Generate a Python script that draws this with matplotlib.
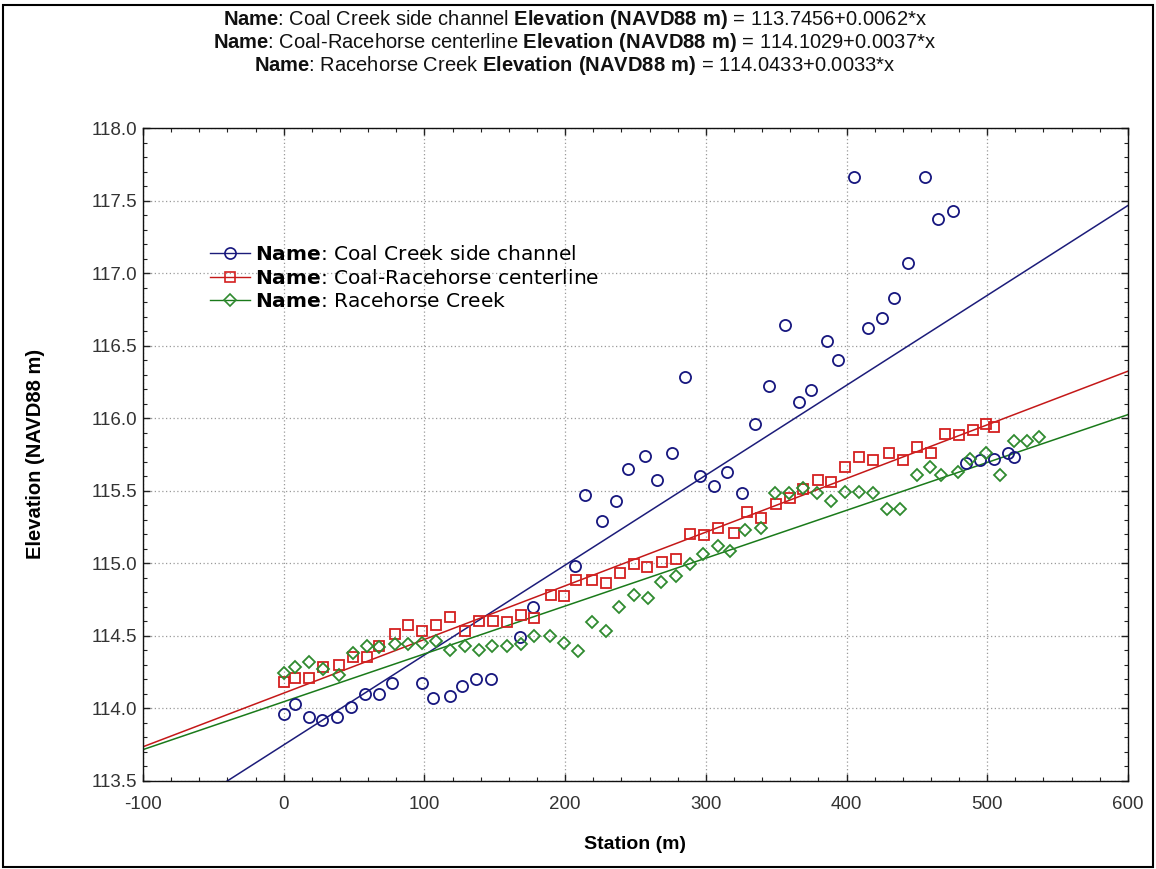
import numpy as np
import matplotlib
matplotlib.use("Agg")
import matplotlib.pyplot as plt
from matplotlib.patches import Rectangle
from matplotlib.ticker import MultipleLocator, FormatStrFormatter
from matplotlib.font_manager import FontProperties

plt.rcParams['font.family'] = ['Liberation Sans', 'DejaVu Sans']
plt.rcParams['mathtext.fontset'] = 'custom'
plt.rcParams['mathtext.rm'] = 'Liberation Sans'
plt.rcParams['mathtext.bf'] = 'Liberation Sans:bold'
plt.rcParams['axes.unicode_minus'] = False

# Coal Creek side channel
coal_st = [0, 8, 18, 27, 38, 48, 58, 68, 77, 98, 106, 118, 127, 137, 147, 168, 177, 207, 214, 226,
           236, 245, 257, 265, 276, 285, 296, 306, 315, 326, 335, 345, 356, 366, 375, 386, 394, 405, 415, 425,
           434, 444, 456, 465, 476, 485, 495, 505, 515, 519]
coal_el = [113.96, 114.03, 113.94, 113.92, 113.94, 114.01, 114.10, 114.10, 114.17, 114.17,
           114.07, 114.08, 114.15, 114.20, 114.20, 114.49, 114.70, 114.98, 115.47, 115.29,
           115.43, 115.65, 115.74, 115.57, 115.76, 116.28, 115.60, 115.53, 115.63, 115.48,
           115.96, 116.22, 116.64, 116.11, 116.19, 116.53, 116.40, 117.66, 116.62, 116.69,
           116.83, 117.07, 117.66, 117.37, 117.43, 115.69, 115.71, 115.72, 115.76, 115.73]

# Coal-Racehorse centerline
cent_st = [0, 8, 18, 28, 39, 49, 59, 68, 79, 88, 98, 108, 118, 129, 139, 149, 159, 169, 178, 190,
           199, 208, 219, 229, 239, 249, 258, 269, 279, 289, 299, 309, 320, 329, 339, 350, 360, 369, 380, 389,
           399, 409, 419, 430, 440, 450, 460, 470, 480, 490, 499, 505]
cent_el = [114.18, 114.21, 114.21, 114.28, 114.30, 114.35, 114.35, 114.43, 114.51, 114.57,
           114.53, 114.57, 114.63, 114.53, 114.60, 114.60, 114.59, 114.64, 114.62, 114.78,
           114.77, 114.88, 114.88, 114.86, 114.93, 114.99, 114.97, 115.01, 115.03, 115.20,
           115.19, 115.24, 115.21, 115.35, 115.31, 115.41, 115.45, 115.51, 115.57, 115.56,
           115.66, 115.73, 115.71, 115.76, 115.71, 115.80, 115.76, 115.89, 115.88, 115.92,
           115.96, 115.94]

# Racehorse Creek
race_st = [0, 8, 18, 28, 39, 49, 59, 68, 79, 88, 98, 108, 118, 129, 139, 148, 159, 169, 178, 189,
           199, 209, 219, 229, 238, 249, 259, 268, 279, 289, 298, 309, 317, 328, 339, 349, 359, 369, 379, 389,
           399, 409, 419, 429, 438, 450, 459, 467, 479, 488, 499, 509, 519, 528, 537]
race_el = [114.24, 114.28, 114.32, 114.27, 114.23, 114.38, 114.43, 114.42, 114.44, 114.44,
           114.45, 114.46, 114.40, 114.43, 114.40, 114.43, 114.43, 114.44, 114.50, 114.50,
           114.45, 114.39, 114.59, 114.53, 114.70, 114.78, 114.76, 114.87, 114.91, 114.99,
           115.06, 115.12, 115.08, 115.23, 115.24, 115.48, 115.48, 115.52, 115.48, 115.43,
           115.49, 115.49, 115.48, 115.37, 115.37, 115.61, 115.66, 115.61, 115.63, 115.72,
           115.76, 115.61, 115.84, 115.84, 115.87]

names = ["Coal Creek side channel", "Coal-Racehorse centerline", "Racehorse Creek"]
intercepts = [113.7456, 114.1029, 114.0433]
slopes = [0.0062, 0.0037, 0.0033]

line_colors = ["#1c1c7a", "#c41818", "#1a7a1a"]
marker_colors = ["#16167e", "#d42020", "#2f8a2f"]
markers = ["o", "s", "D"]
msizes = [8, 7.8, 6]

fig = plt.figure(figsize=(11.56, 8.69), dpi=100)
ax = fig.add_axes([0.1237, 0.1018, 0.852, 0.7509])

xfit = np.linspace(-100, 600, 200)
series = [(coal_st, coal_el), (cent_st, cent_el), (race_st, race_el)]
handles = []
for i, (st, el) in enumerate(series):
    ax.plot(st, el, linestyle="none", marker=markers[i], ms=msizes[i],
            mfc="none", mec=marker_colors[i], mew=1.3, zorder=3)
    ax.plot(xfit, intercepts[i] + slopes[i] * xfit, color=line_colors[i], lw=1.1, zorder=2)
    h, = ax.plot([], [], color=line_colors[i], lw=1.0, marker=markers[i], ms=msizes[i],
                 mfc="none", mec=marker_colors[i], mew=1.2,
                 label=r"$\mathbf{Name}$: " + names[i])
    handles.append(h)

ax.set_xlim(-100, 600)
ax.set_ylim(113.5, 118.0)
ax.xaxis.set_major_locator(MultipleLocator(100))
ax.xaxis.set_minor_locator(MultipleLocator(20))
ax.yaxis.set_major_locator(MultipleLocator(0.5))
ax.yaxis.set_minor_locator(MultipleLocator(0.1))
ax.yaxis.set_major_formatter(FormatStrFormatter("%.1f"))
ax.tick_params(which="both", direction="in", top=True, right=True, labelsize=13.5,
               colors="#222222", labelcolor="#333333")
ax.tick_params(which="major", length=5, width=1)
ax.tick_params(which="minor", length=3, width=0.8)
ax.tick_params(axis="x", pad=11)
ax.tick_params(axis="y", pad=4)
ax.grid(True, which="major", color="#9a9a9a", linestyle=(0, (1, 2)), linewidth=0.9)
for s in ax.spines.values():
    s.set_linewidth(1.0)
    s.set_color("#111111")

ax.set_xlabel("Station (m)", fontsize=14, fontweight="bold")
ax.set_ylabel("Elevation (NAVD88 m)", fontsize=14.5, fontweight="bold")
ax.xaxis.set_label_coords(0.5, -0.085)
ax.yaxis.set_label_coords(-0.100, 0.5)

leg_font = FontProperties(family="DejaVu Sans", size=14.5, math_fontfamily="dejavusans")
leg = ax.legend(handles=handles, loc="upper left", bbox_to_anchor=(0.068, 0.820),
                frameon=False, prop=leg_font, borderpad=0, borderaxespad=0,
                handlelength=2.0, handletextpad=0.25, labelspacing=0.22)

title_rows = []
for i in range(3):
    title_rows.append(r"$\mathbf{Name}$: " + names[i] + r" $\mathbf{Elevation\ (NAVD88\ m)}$ = "
                      + f"{intercepts[i]:.4f}+{slopes[i]:.4f}*x")
for i, row in enumerate(title_rows):
    fig.text(0.497, 0.977 - 0.0262 * i, row, ha="center", va="center", fontsize=14.5, color="#111111")

fig.add_artist(Rectangle((0.003, 0.002), 0.994, 0.992, transform=fig.transFigure,
                         fill=False, edgecolor="black", linewidth=1.5))

fig.savefig("out.png", dpi=100)
